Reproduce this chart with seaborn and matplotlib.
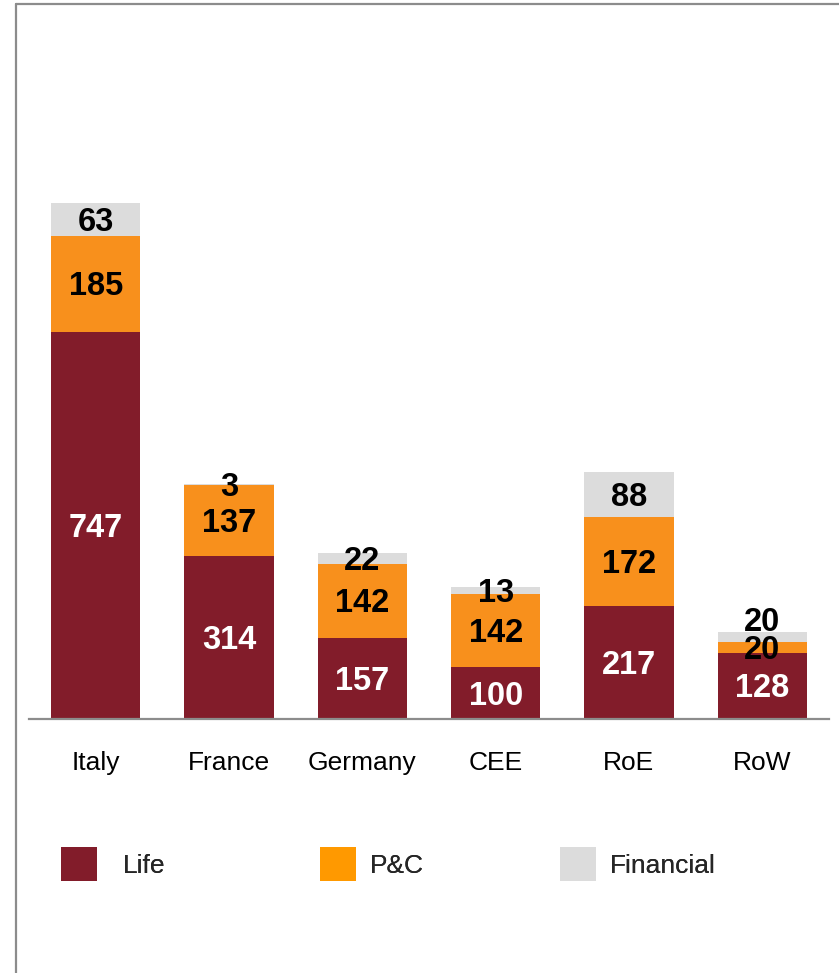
import matplotlib
matplotlib.use("Agg")
import matplotlib.pyplot as plt
import seaborn as sns
import pandas as pd
from matplotlib.patches import Patch
from matplotlib.lines import Line2D

# ---- data ----
categories = ["Italy", "France", "Germany", "CEE", "RoE", "RoW"]
life = [747, 314, 157, 100, 217, 128]
pc = [185, 137, 142, 142, 172, 20]
financial = [63, 3, 22, 13, 88, 20]
series_names = ["Life", "P&C", "Financial"]

# ---- style ----
LIFE_C = "#821C2A"
PC_C = "#F8901C"
PC_LEG = "#FF9900"
FIN_C = "#DCDCDC"
FRAME_C = "#8C8C8C"
fin_label_offset_pt = [0, 0, 0, 0, 0, 13]
label_shift_pt = -2.2

sns.set_style("white")
plt.rcParams["font.family"] = ["Liberation Sans", "DejaVu Sans"]

df = pd.DataFrame({"category": categories, "life": life, "pc": pc, "fin": financial})
df["life_pc"] = df["life"] + df["pc"]
df["total"] = df["life_pc"] + df["fin"]

W, H = 839, 973
fig = plt.figure(figsize=(W / 100, H / 100), dpi=100)
ax = fig.add_axes([29 / W, (H - 719) / H, 800 / W, 622.3 / H])

bw = 0.67
sns.barplot(data=df, x="category", y="total", color=FIN_C, width=bw, saturation=1,
            linewidth=0, ax=ax, errorbar=None)
sns.barplot(data=df, x="category", y="life_pc", color=PC_C, width=bw, saturation=1,
            linewidth=0, ax=ax, errorbar=None)
sns.barplot(data=df, x="category", y="life", color=LIFE_C, width=bw, saturation=1,
            linewidth=0, ax=ax, errorbar=None)

ax.set_xlim(-0.5, 5.5)
ax.set_ylim(0, 1200)
ax.set_xlabel("")
ax.set_ylabel("")
ax.set_yticks([])
for s in ["left", "top", "right"]:
    ax.spines[s].set_visible(False)
ax.spines["bottom"].set_color(FRAME_C)
ax.spines["bottom"].set_linewidth(1.6)
ax.tick_params(axis="x", length=0, pad=23, labelsize=19, labelcolor="black")

lab_kw = dict(ha="center", va="center", fontsize=23.5, fontweight="bold",
              textcoords="offset points")
for i, row in df.iterrows():
    ax.annotate(f"{row['life']}", xy=(i, row["life"] / 2),
                xytext=(0, label_shift_pt), color="white", **lab_kw)
    ax.annotate(f"{row['pc']}", xy=(i, row["life"] + row["pc"] / 2),
                xytext=(0, label_shift_pt), color="black", **lab_kw)
    ax.annotate(f"{row['fin']}", xy=(i, row["life_pc"] + row["fin"] / 2),
                xytext=(0, label_shift_pt + fin_label_offset_pt[i]),
                color="black", **lab_kw)

# ---- legend (three separate entries) ----
leg_colors = [LIFE_C, PC_LEG, FIN_C]
leg_x = [61, 320, 560]
leg_pad = [0.98, 0.53, 0.53]
for name, c, x, p in zip(series_names, leg_colors, leg_x, leg_pad):
    lg = fig.legend(handles=[Patch(facecolor=c, edgecolor="none", label=name)],
                    loc="center left", bbox_to_anchor=(x / W, 1 - 864 / H),
                    frameon=False, fontsize=19, handlelength=1.37, handleheight=1.55,
                    handletextpad=p, borderpad=0, borderaxespad=0)
    fig.add_artist(lg)

# ---- outer frame lines ----
fig.add_artist(Line2D([16 / W, 16 / W], [0, 1 - 3.5 / H], transform=fig.transFigure,
                      color=FRAME_C, lw=1.6))
fig.add_artist(Line2D([16 / W, 1], [1 - 3.5 / H, 1 - 3.5 / H], transform=fig.transFigure,
                      color=FRAME_C, lw=1.6))

fig.savefig("out.png", dpi=100)
